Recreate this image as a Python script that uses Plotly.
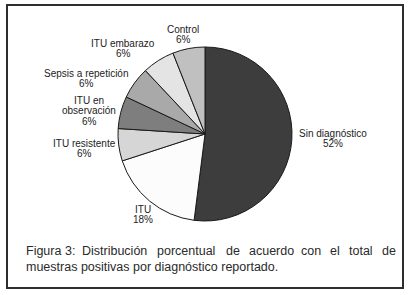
import plotly.graph_objects as go

# ---- data ----
categories = ["Sin diagnóstico", "ITU", "ITU resistente", "ITU en observación",
              "Sepsis a repetición", "ITU embarazo", "Control"]
display_labels = ["Sin diagnóstico", "ITU", "ITU resistente", "ITU en<br>observación",
                  "Sepsis a repetición", "ITU embarazo", "Control"]
values = [52, 18, 6, 6, 6, 6, 6]
slice_colors = ["#3d3d3d", "#fcfcfc", "#d6d6d6", "#7e7e7e", "#a9a9a9", "#e4e4e4", "#c0c0c0"]

caption_line1 = ["Figura", "3:", "Distribución", "porcentual", "de", "acuerdo",
                 "con", "el", "total", "de"]
caption_line2 = "muestras positivas por diagnóstico reportado."

# ---- layout helpers (pixel positions) ----
W, H = 409, 295
cx, cy, r = 205, 134, 87
label_pos = [(333, 133), (143, 209), (84, 143), (89, 100), (86, 73), (123, 43), (183, 29)]
line_h = 10.8
word_x = [24, 63, 80, 155, 224, 247, 299, 328, 347, 380]

def px(x):
    return x / W

def py(y):
    return 1 - y / H

fig = go.Figure(go.Pie(
    labels=categories,
    values=values,
    sort=False,
    direction="clockwise",
    rotation=0,
    marker=dict(colors=slice_colors, line=dict(color="#1a1a1a", width=1)),
    textinfo="none",
    hoverinfo="label+percent",
    showlegend=False,
    domain=dict(x=[px(cx - r), px(cx + r)], y=[py(cy + r), py(cy - r)]),
))

annotations = []
font_lbl = dict(family="Liberation Sans, Arial, sans-serif", size=10, color="#222222")
for lab, v, (x, y) in zip(display_labels, values, label_pos):
    lines = lab.split("<br>") + [f"{v}%"]
    for i, t in enumerate(lines):
        annotations.append(dict(
            x=px(x), y=py(y + i * line_h), xref="paper", yref="paper",
            text=t, showarrow=False, xanchor="center", yanchor="middle",
            borderpad=0, font=font_lbl))

font_cap = dict(family="Liberation Sans, Arial, sans-serif", size=12.5, color="#2a2a2a")
for w, x in zip(caption_line1, word_x):
    annotations.append(dict(x=px(x), y=py(251), xref="paper", yref="paper", text=w,
                            showarrow=False, xanchor="left", yanchor="middle", font=font_cap))
annotations.append(dict(x=px(24), y=py(267), xref="paper", yref="paper", text=caption_line2,
                        showarrow=False, xanchor="left", yanchor="middle", font=font_cap))

fig.update_layout(
    width=W, height=H,
    margin=dict(l=0, r=0, t=0, b=0),
    paper_bgcolor="#ffffff",
    plot_bgcolor="#ffffff",
    annotations=annotations,
    shapes=[dict(type="rect", xref="paper", yref="paper",
                 x0=px(7), x1=px(403), y0=py(288), y1=py(5),
                 line=dict(color="#2e2e2e", width=2))],
)

fig.write_html("out.html", config={"displayModeBar": False},
               post_script="document.body.style.margin='0';document.body.style.overflow='hidden';")
